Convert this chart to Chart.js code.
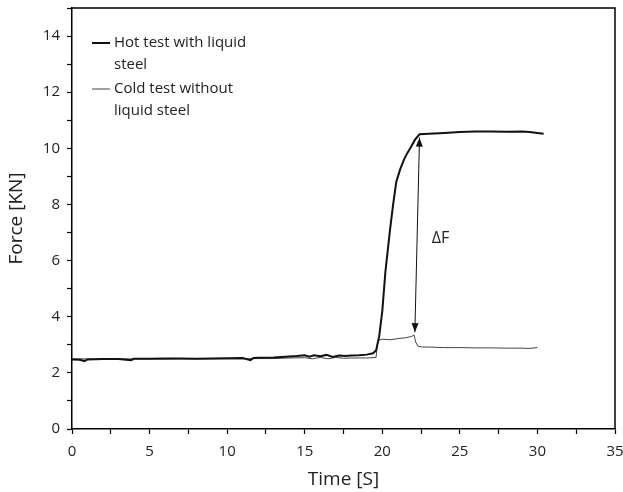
<!DOCTYPE html>
<html>
<head>
<meta charset="utf-8">
<script src="https://cdn.jsdelivr.net/npm/chart.js@4/dist/chart.umd.min.js"></script>
<style>
html,body{margin:0;padding:0;background:#fff;}
canvas{display:block;}
</style>
</head>
<body>
<canvas id="c" width="623" height="492"></canvas>
<script>
// ---- Data ----
const hotTime = [0,0.5,0.8,1,2,3,3.8,4,5,6,7,8,9,10,11,11.5,11.7,12,13,14,14.5,15,15.3,15.6,16,16.4,16.8,17.2,17.6,18,18.5,19,19.4,19.6,19.8,20,20.2,20.5,20.7,20.9,21.15,21.4,21.6,21.85,22.1,22.4,23,24,25,26,27,28,29,29.5,30,30.4];
const hotForce = [2.48,2.47,2.42,2.48,2.49,2.49,2.45,2.5,2.5,2.51,2.51,2.5,2.51,2.52,2.53,2.45,2.53,2.54,2.55,2.58,2.6,2.63,2.58,2.63,2.59,2.64,2.57,2.62,2.6,2.62,2.63,2.65,2.7,2.8,3.3,4.2,5.6,7.1,8.0,8.8,9.25,9.6,9.82,10.05,10.3,10.5,10.52,10.55,10.58,10.6,10.6,10.59,10.6,10.58,10.55,10.52];
const coldTime = [0,1,2,3,4,5,6,7,8,9,10,11,12,13,14,15,15.5,16,16.5,17,17.5,18,19,19.6,19.7,20,20.5,21,21.5,21.9,22.05,22.15,22.3,22.6,23,24,25,26,27,28,29,29.5,30];
const coldForce = [2.5,2.5,2.49,2.5,2.5,2.5,2.49,2.5,2.5,2.5,2.5,2.5,2.51,2.51,2.53,2.54,2.5,2.55,2.5,2.55,2.52,2.53,2.53,2.55,3.15,3.2,3.18,3.22,3.25,3.3,3.35,3.1,2.95,2.92,2.92,2.9,2.9,2.89,2.89,2.88,2.88,2.87,2.9];
const seriesNames = [["Hot test with liquid","steel"],["Cold test without","liquid steel"]];
const xTicks = [0,5,10,15,20,25,30,35];
const yTicks = [0,2,4,6,8,10,12,14];
const deltaFArrow = {x1:22.4, y1:10.38, x2:22.1, y2:3.45, labelX:23.75, labelY:6.8, label:"ΔF"};

const FONT = "'Open Sans', 'Noto Sans', sans-serif";

const boxPlugin = {
  id:'box',
  afterDraw(chart){
    const {ctx, chartArea:a, scales} = chart;
    ctx.save();
    ctx.strokeStyle='#000'; ctx.lineWidth=1.5;
    ctx.beginPath();
    ctx.moveTo(a.left, a.top); ctx.lineTo(a.right, a.top); ctx.lineTo(a.right, a.bottom);
    ctx.stroke();
    // arrow
    const xs=scales.x, ys=scales.y;
    const p1={x:xs.getPixelForValue(deltaFArrow.x1), y:ys.getPixelForValue(deltaFArrow.y1)};
    const p2={x:xs.getPixelForValue(deltaFArrow.x2), y:ys.getPixelForValue(deltaFArrow.y2)};
    ctx.lineWidth=1; ctx.strokeStyle='#111'; ctx.fillStyle='#111';
    ctx.beginPath(); ctx.moveTo(p1.x,p1.y); ctx.lineTo(p2.x,p2.y); ctx.stroke();
    function head(tip, from){
      const ang=Math.atan2(tip.y-from.y, tip.x-from.x);
      const L=9, W=3.5;
      ctx.beginPath();
      ctx.moveTo(tip.x, tip.y);
      ctx.lineTo(tip.x-L*Math.cos(ang)+W*Math.sin(ang), tip.y-L*Math.sin(ang)-W*Math.cos(ang));
      ctx.lineTo(tip.x-L*Math.cos(ang)-W*Math.sin(ang), tip.y-L*Math.sin(ang)+W*Math.cos(ang));
      ctx.closePath(); ctx.fill();
    }
    head(p1,p2); head(p2,p1);
    ctx.font="16px "+FONT; ctx.textAlign='center'; ctx.textBaseline='middle'; ctx.fillStyle='#222';
    ctx.fillText(deltaFArrow.label, xs.getPixelForValue(deltaFArrow.labelX), ys.getPixelForValue(deltaFArrow.labelY));
    // legend
    const lx=a.left+20, ly=[a.top+35, a.top+81];
    const widths=[2,1], colors=['#111','#444'];
    ctx.font="15px "+FONT; ctx.textAlign='left'; ctx.textBaseline='middle';
    for(let i=0;i<2;i++){
      ctx.strokeStyle=colors[i]; ctx.lineWidth=widths[i];
      ctx.beginPath(); ctx.moveTo(lx, ly[i]); ctx.lineTo(lx+18, ly[i]); ctx.stroke();
      ctx.fillStyle='#222';
      seriesNames[i].forEach((t,k)=>ctx.fillText(t, lx+22, ly[i]+k*22));
    }
    ctx.restore();
  }
};

new Chart(document.getElementById('c'), {
  type:'scatter',
  data:{
    datasets:[
      {label:seriesNames[0].join(' '), data:hotTime.map((t,i)=>({x:t,y:hotForce[i]})), showLine:true, borderColor:'#111', borderWidth:2, pointRadius:0, tension:0},
      {label:seriesNames[1].join(' '), data:coldTime.map((t,i)=>({x:t,y:coldForce[i]})), showLine:true, borderColor:'#444', borderWidth:1, pointRadius:0, tension:0}
    ]
  },
  options:{
    responsive:false, animation:false,
    layout:{padding:{left:0,top:8,right:8,bottom:0}, autoPadding:false},
    plugins:{legend:{display:false}, tooltip:{enabled:false}},
    scales:{
      x:{
        type:'linear', min:0, max:35,
        afterBuildTicks(s){ const t=[]; for(let v=0; v<=35; v+=2.5) t.push({value:v}); s.ticks=t; },
        afterFit(s){ s.height=63; s.paddingLeft=0; s.paddingRight=0; },
        ticks:{autoSkip:false, maxRotation:0, padding:9, color:'#222', font:{family:FONT,size:15},
          callback:(v)=> xTicks.includes(v)? String(v) : ''},
        grid:{drawOnChartArea:false, drawTicks:true, tickLength:5, color:'#000', tickWidth:1.2},
        border:{display:true, color:'#000', width:1.5},
        title:{display:true, text:'Time [S]', color:'#222', font:{family:FONT,size:19}, padding:{top:0,bottom:1}}
      },
      y:{
        type:'linear', min:0, max:15,
        afterBuildTicks(s){ const t=[]; for(let v=0; v<=15; v+=1) t.push({value:v}); s.ticks=t; },
        afterFit(s){ s.width=72; s.paddingTop=0; s.paddingBottom=0; },
        ticks:{autoSkip:false, padding:7, color:'#222', font:{family:FONT,size:15},
          callback:(v)=> yTicks.includes(v)? String(v) : ''},
        grid:{drawOnChartArea:false, drawTicks:true, tickLength:5, color:'#000', tickWidth:1.2},
        border:{display:true, color:'#000', width:1.5},
        title:{display:true, text:'Force [KN]', color:'#222', font:{family:FONT,size:19}, padding:{top:5,bottom:0}}
      }
    }
  },
  plugins:[boxPlugin]
});
</script>
</body>
</html>
